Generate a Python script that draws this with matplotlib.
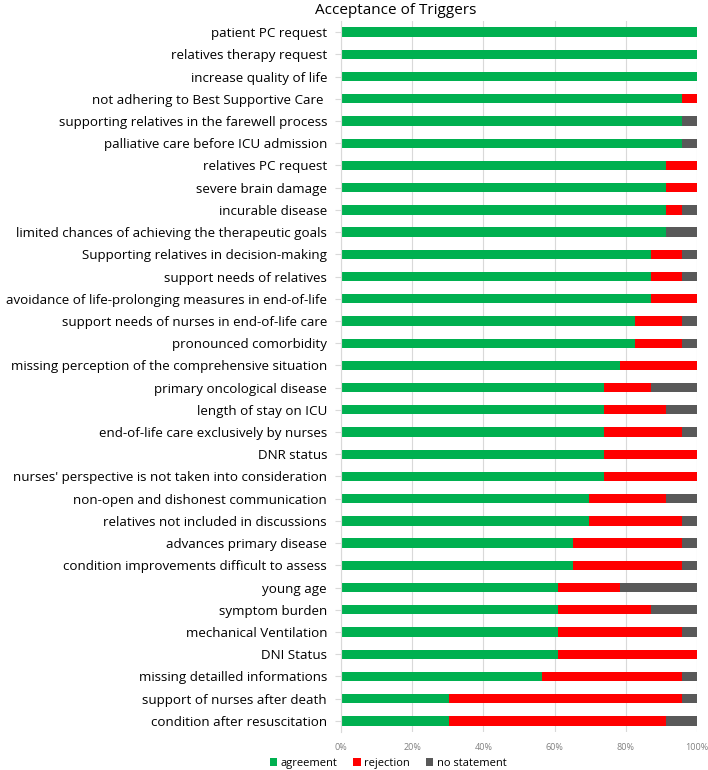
import numpy as np
import matplotlib.pyplot as plt

plt.rcParams['font.family'] = ['Open Sans', 'DejaVu Sans']

# counts out of 23 respondents
categories = [
    'patient PC request', 'relatives therapy request', 'increase quality of life',
    'not adhering to Best Supportive Care ', 'supporting relatives in the farewell process',
    'palliative care before ICU admission', 'relatives PC request', 'severe brain damage',
    'incurable disease', 'limited chances of achieving the therapeutic goals',
    'Supporting relatives in decision-making', 'support needs of relatives',
    'avoidance of life-prolonging measures in end-of-life',
    'support needs of nurses in end-of-life care', 'pronounced comorbidity',
    'missing perception of the comprehensive situation', 'primary oncological disease',
    'length of stay on ICU', 'end-of-life care exclusively by nurses', 'DNR status',
    "nurses' perspective is not taken into consideration",
    'non-open and dishonest communication', 'relatives not included in discussions',
    'advances primary disease', 'condition improvements difficult to assess',
    'young age', 'symptom burden', 'mechanical Ventilation', 'DNI Status',
    'missing detailled informations', 'support of nurses after death',
    'condition after resuscitation',
]
agreement = [23, 23, 23, 22, 22, 22, 21, 21, 21, 21, 20, 20, 20, 19, 19, 18,
             17, 17, 17, 17, 17, 16, 16, 15, 15, 14, 14, 14, 14, 13, 7, 7]
rejection = [0, 0, 0, 1, 0, 0, 2, 2, 1, 0, 2, 2, 3, 3, 3, 5,
             3, 4, 5, 6, 6, 5, 6, 7, 7, 4, 6, 8, 9, 9, 15, 14]
no_statement = [0, 0, 0, 0, 1, 1, 0, 0, 1, 2, 1, 1, 0, 1, 1, 0,
                3, 2, 1, 0, 0, 2, 1, 1, 1, 5, 3, 1, 0, 1, 1, 2]

n = 23
agr = np.array(agreement) / n
rej = np.array(rejection) / n
nos = np.array(no_statement) / n
y = np.arange(len(categories))

fig = plt.figure(figsize=(7.08, 7.70), dpi=100)
ax = fig.add_axes([0.4816, 0.0494, 0.503, 0.9233])

h = 0.42
ax.barh(y, agr, height=h, color='#00B050', label='agreement')
ax.barh(y, rej, left=agr, height=h, color='#FF0000', label='rejection')
ax.barh(y, nos, left=agr + rej, height=h, color='#595959', label='no statement')

ax.set_xlim(0, 1)
ax.set_ylim(len(categories) - 0.5, -0.5)
ax.set_yticks(y)
ax.set_yticklabels(categories, fontsize=9.6, color='#000000')
ax.set_xticks(np.linspace(0, 1, 6))
ax.set_xticklabels(['0%', '20%', '40%', '60%', '80%', '100%'], fontsize=6.5, color='#808080')
ax.xaxis.grid(True, color='#D9D9D9', linewidth=0.8)
ax.set_axisbelow(True)
for s in ['top', 'right', 'bottom']:
    ax.spines[s].set_visible(False)
ax.spines['left'].set_color('#D9D9D9')
ax.tick_params(axis='y', length=4, color='#D9D9D9', pad=6)
ax.tick_params(axis='x', length=0, pad=8)

fig.text(0.559, 0.986, 'Acceptance of Triggers', ha='center', va='center', fontsize=11)
fig.legend(loc='center', bbox_to_anchor=(0.548, 0.009), ncol=3, frameon=False,
           fontsize=8, handlelength=0.7, handleheight=0.7, handletextpad=0.3,
           columnspacing=1.4)

plt.savefig('out.png')
